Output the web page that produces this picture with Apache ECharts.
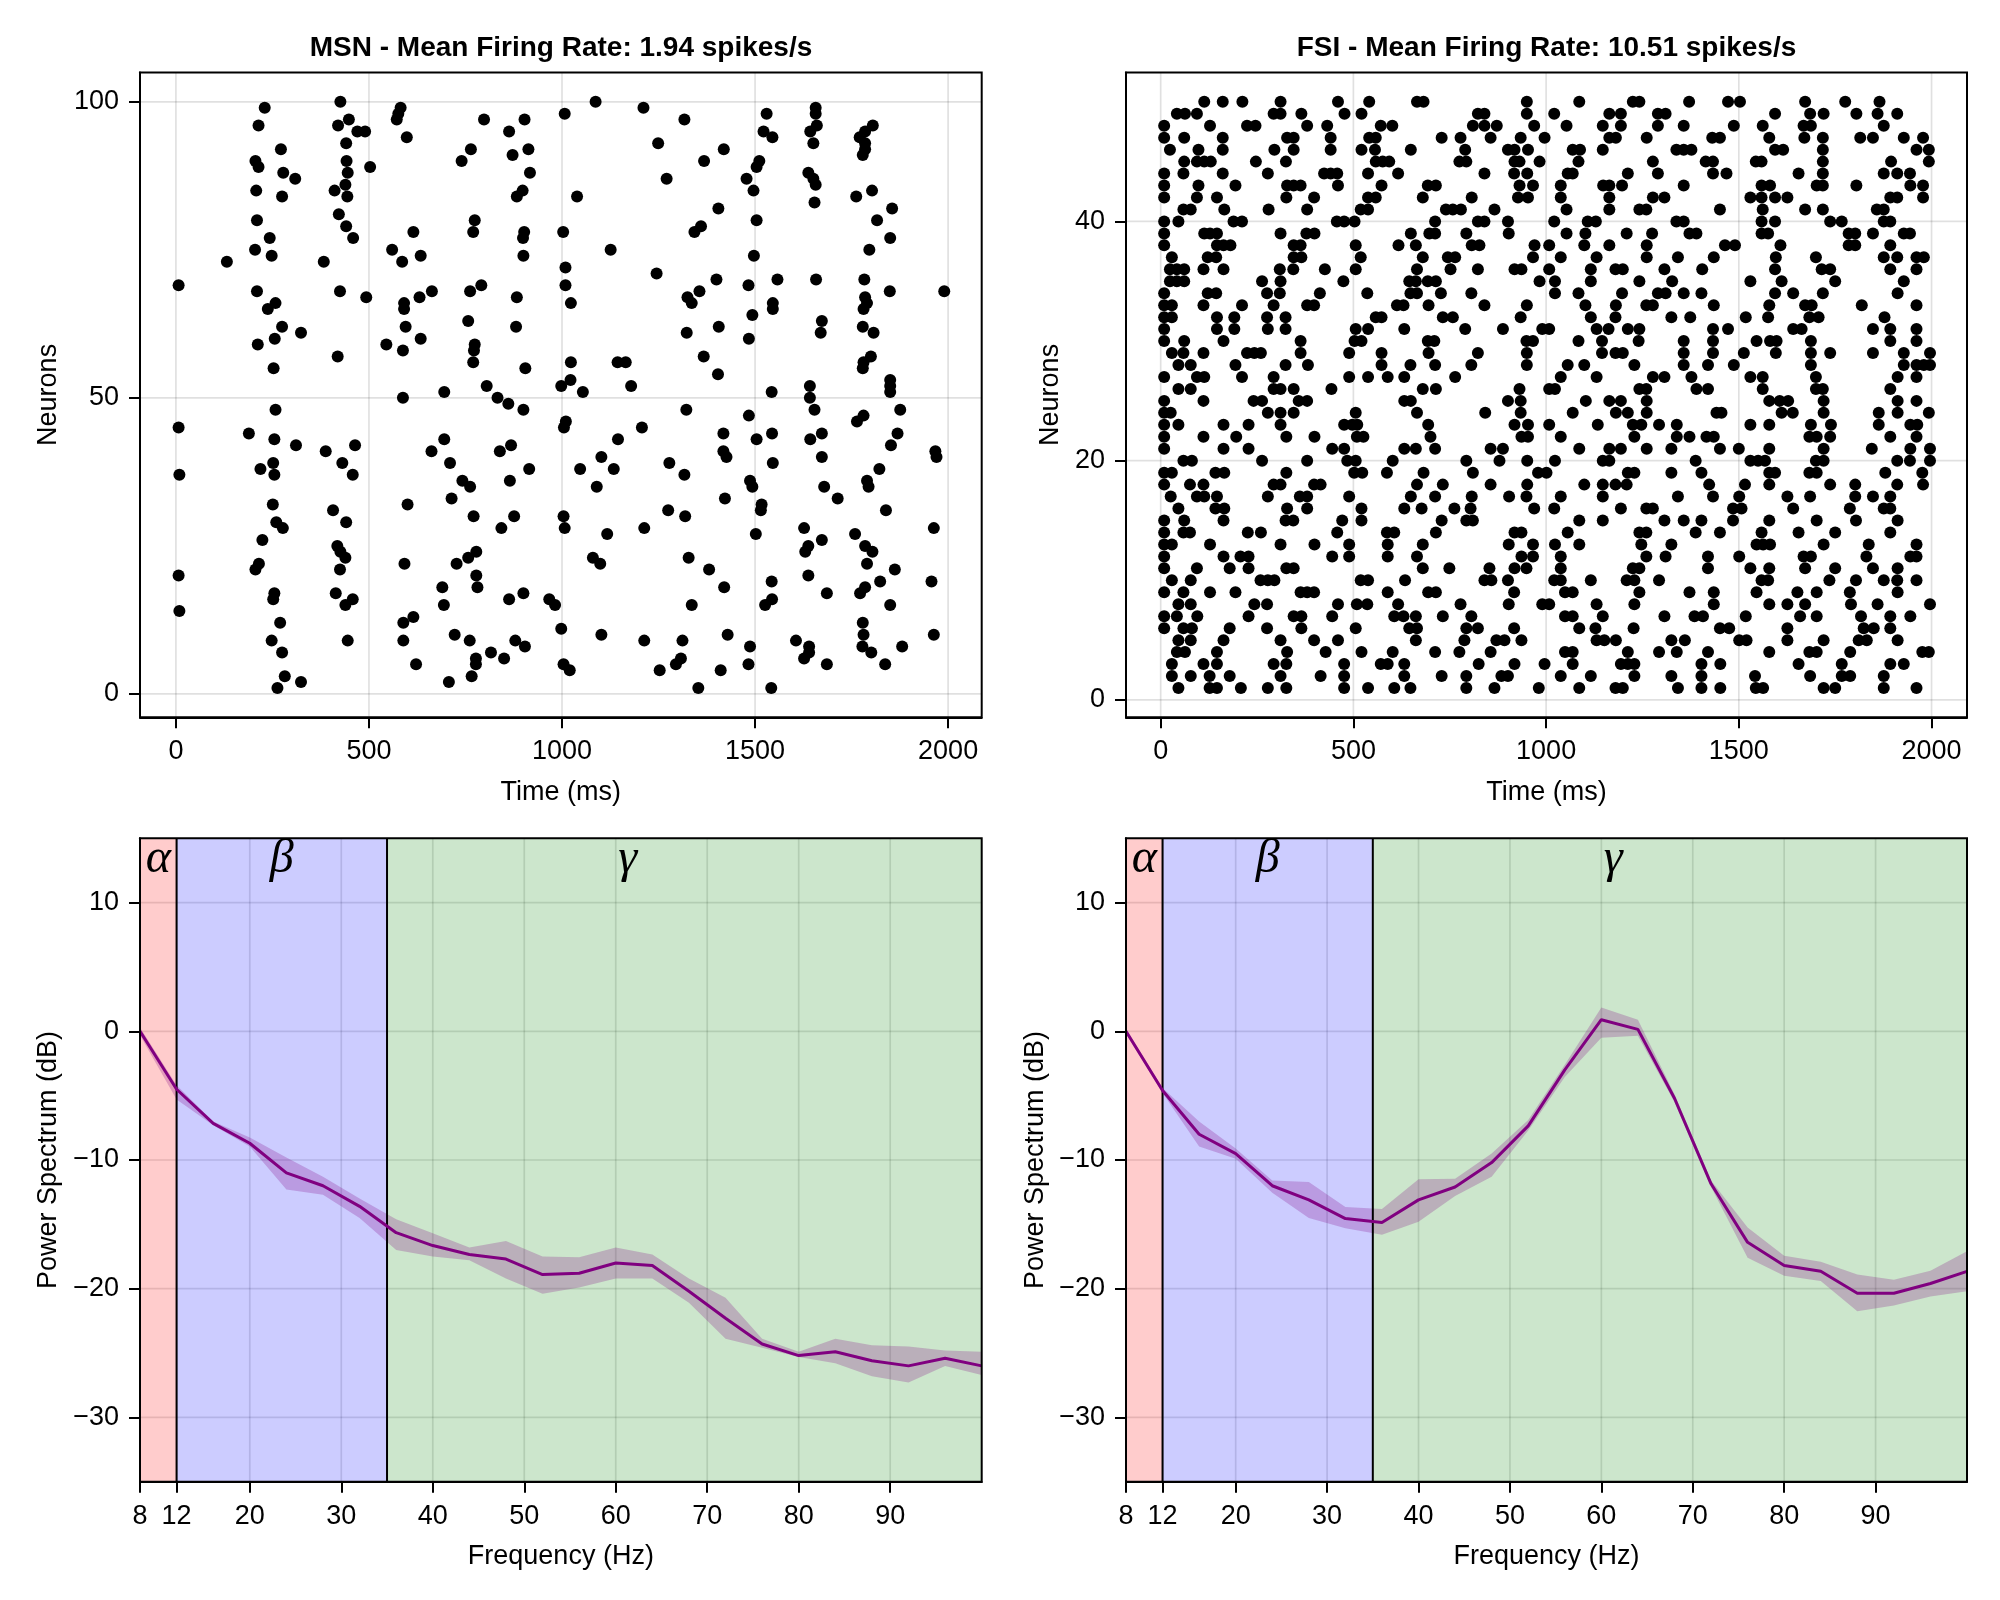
<!DOCTYPE html>
<html>
<head>
<meta charset="utf-8">
<script src="https://cdn.jsdelivr.net/npm/echarts@6/dist/echarts.min.js"></script>
<style>html,body{margin:0;padding:0;background:#fff}#chart{width:2000px;height:1600px}</style>
</head>
<body>
<div id="chart"></div>
<script>
// ---------------- DATA ----------------
const msnTitle = 'MSN - Mean Firing Rate: 1.94 spikes/s';
const fsiTitle = 'FSI - Mean Firing Rate: 10.51 spikes/s';

// MSN spikes: [time (ms), neuron]
const msnSpikes = [
[230,99],[426,100],[582,99],[576,98],[572,97],[214,96],[420,96],[448,97],[470,95],[490,95],[798,97],[863,95],[903,97],[598,94],[272,92],[441,93],[764,92],[872,91],[913,92],[206,90],[214,89],[740,90],[442,90],[445,88],[503,89],[278,88],[309,87],[917,88],[208,85],[411,85],[439,86],[444,84],[275,84],[898,85],[883,84],[210,80],[422,81],[441,79],[459,77],[243,77],[774,80],[770,78],[615,78],[902,78],[899,77],[205,75],[248,74],[132,73],[383,73],[560,75],[586,73],[634,74],[900,74],[7,69],[210,68],[425,68],[493,67],[258,66],[238,65],[591,66],[591,65],[631,67],[663,68],[762,68],[791,69],[883,67],[757,63],[275,62],[324,61],[256,60],[212,59],[595,62],[545,59],[588,58],[634,60],[774,59],[772,58],[770,56],[881,62],[419,57],[253,55],[905,55],[695,51],[588,50],[805,52],[833,50],[861,49],[900,48],[258,48],[7,45],[189,44],[255,43],[311,42],[388,41],[464,42],[431,39],[458,37],[252,39],[255,37],[219,38],[695,43],[662,41],[710,39],[742,36],[762,35],[839,41],[868,42],[915,38],[865,36],[9,37],[714,33],[771,30],[876,30],[843,28],[600,32],[251,32],[407,31],[441,29],[260,29],[277,28],[224,26],[418,25],[426,24],[439,23],[425,21],[215,22],[206,21],[7,20],[592,22],[727,22],[757,23],[778,24],[778,20],[781,18],[690,18],[694,15],[255,17],[252,16],[414,17],[458,16],[439,15],[9,14],[863,16],[900,17],[967,16],[982,15],[270,12],[248,9],[275,7],[445,9],[589,12],[615,13],[589,9],[622,5],[722,10],[761,9],[816,7],[850,6],[879,9],[904,8],[777,6],[777,5],[766,3],[707,2],[282,3],[263,1],[324,2],
[1007,98],[1087,100],[1211,99],[1317,97],[1249,93],[1368,90],[1419,92],[1271,87],[1039,84],[1530,98],[1522,95],[1545,94],[1511,90],[1504,89],[1478,87],[1496,85],[1657,99],[1657,98],[1660,96],[1643,95],[1651,93],[1805,96],[1785,95],[1771,94],[1785,93],[1785,92],[1779,91],[1638,88],[1651,87],[1657,86],[1654,83],[1762,84],[1803,85],[1855,82],[1405,82],[1504,80],[1816,80],[1343,78],[1360,79],[1850,77],[1003,78],[1126,75],[1796,75],[1497,74],[1009,72],[1009,69],[1023,66],[1245,71],[1400,70],[1356,68],[1325,67],[1336,66],[1483,69],[1558,70],[1658,70],[1783,70],[1849,68],[1990,68],[1785,67],[1790,66],[1781,65],[1546,66],[1546,65],[1493,64],[1673,63],[1670,61],[1406,62],[1323,61],[1484,60],[1779,62],[1807,61],[1367,57],[1404,54],[1023,56],[1022,53],[998,52],[1054,51],[1144,56],[1165,56],[1179,52],[1781,56],[1779,55],[1800,57],[1850,53],[1850,52],[1850,51],[1543,51],[1642,52],[1642,50],[1654,48],[1322,48],[1484,47],[1010,46],[1005,45],[1207,45],[1145,43],[1102,40],[1047,38],[1134,38],[1090,35],[1418,44],[1418,41],[1426,40],[1504,43],[1544,44],[1546,39],[1643,43],[1673,44],[1673,40],[1764,46],[1781,47],[1876,48],[1869,44],[1852,42],[1967,41],[1970,40],[1822,38],[1790,36],[1794,35],[1278,39],[1317,37],[1487,36],[1493,35],[1679,35],[1714,33],[1422,33],[1517,32],[1515,31],[1839,31],[1004,30],[1007,28],[1117,27],[1213,28],[1275,31],[1319,30],[1502,27],[1627,28],[1673,26],[1638,25],[1630,24],[1759,27],[1785,25],[1804,24],[1790,22],[1963,28],[1080,23],[1099,22],[1328,23],[1381,21],[1420,18],[1543,19],[1544,16],[1526,15],[1638,20],[1686,17],[1785,18],[1772,17],[1824,19],[1862,21],[1850,15],[1957,19],[1336,15],[998,11],[1102,10],[1213,9],[1312,9],[1429,10],[1487,8],[1483,5],[1606,9],[1640,8],[1640,7],[1627,6],[1686,5],[1779,12],[1781,10],[1778,8],[1801,7],[1881,8],[1837,5],[1963,10],[1004,5],[1020,4],[1253,4],[1308,6],[1295,5],[1411,4],[1353,1],[1542,1]
];

// FSI spike times (ms) per neuron, neuron 1 first
const fsiSpikeTimes = [
/*1*/ [46,127,146,208,278,326,476,538,606,648,793,866,981,1086,1180,1199,1342,1403,1452,1544,1563,1720,1750,1876,1961],
/*2*/ [29,78,127,179,311,415,476,632,729,793,884,901,1038,1116,1229,1325,1403,1542,1685,1767,1789,1876],
/*3*/ [29,111,146,293,326,476,571,589,632,825,918,996,1069,1194,1212,1229,1403,1452,1655,1767,1893,1928],
/*4*/ [42,63,146,328,428,521,602,712,775,856,1049,1069,1212,1293,1339,1420,1579,1683,1702,1789,1976,1993],
/*5*/ [46,78,163,311,398,460,662,788,871,892,936,1131,1151,1181,1325,1360,1501,1520,1626,1720,1811,1832,1912],
/*6*/ [9,59,81,179,276,365,506,645,665,793,823,917,1086,1128,1227,1451,1475,1626,1824,1850,1893],
/*7*/ [9,42,95,228,345,365,445,606,630,662,732,806,1049,1069,1147,1307,1385,1407,1518,1659,1702,1817,1893,1945],
/*8*/ [46,78,243,276,460,509,536,616,778,903,990,1008,1131,1229,1435,1579,1626,1672,1791,1860,1996],
/*9*/ [9,59,128,194,363,380,398,589,694,714,917,1049,1069,1242,1372,1435,1546,1652,1702,1788,1912],
/*10*/ [29,78,259,278,295,519,538,634,840,858,901,1021,1038,1116,1209,1229,1293,1559,1576,1735,1804,1876,1911,1961],
/*11*/ [9,94,179,228,326,345,680,749,853,918,949,1038,1225,1242,1420,1530,1579,1672,1750,1848,1912],
/*12*/ [9,163,207,228,445,489,589,665,936,966,1038,1260,1310,1420,1501,1668,1687,1831,1945,1961],
/*13*/ [9,29,128,311,399,489,589,680,903,966,1023,1086,1247,1325,1546,1563,1581,1720,1837,1961],
/*14*/ [9,59,76,226,260,458,587,606,714,918,936,1056,1242,1260,1388,1451,1559,1655,1750,1893],
/*15*/ [9,61,163,324,344,471,521,729,793,810,1086,1147,1307,1357,1403,1485,1579,1702,1804,1912],
/*16*/ [46,142,165,328,380,521,632,677,762,804,969,1021,1194,1260,1277,1485,1507,1641,1788,1876,1893],
/*17*/ [26,94,113,146,278,361,380,489,649,712,807,904,949,1038,1147,1342,1433,1501,1626,1685,1802,1848,1893],
/*18*/ [9,76,111,293,311,398,415,665,732,856,951,1099,1147,1180,1209,1423,1516,1579,1737,1802,1911,1978],
/*19*/ [9,29,142,165,326,502,523,587,682,810,979,1001,1212,1229,1325,1403,1579,1594,1683,1702,1880,1976],
/*20*/ [59,81,263,380,484,506,602,793,879,951,1023,1147,1164,1388,1530,1550,1568,1700,1720,1911,1944,1996],
/*21*/ [9,163,228,445,476,632,662,712,856,888,1086,1164,1194,1261,1325,1451,1500,1579,1720,1845,1945,1996],
/*22*/ [9,111,196,326,399,509,526,700,936,953,1038,1229,1339,1372,1416,1435,1683,1702,1737,1893,1961],
/*23*/ [9,46,163,228,311,476,497,510,694,918,953,1008,1134,1225,1247,1293,1339,1530,1579,1687,1739,1863,1945,1963],
/*24*/ [9,26,278,311,345,506,665,842,934,1069,1181,1212,1261,1442,1455,1611,1640,1720,1863,1912,1993],
/*25*/ [9,111,241,263,358,380,632,649,901,934,1103,1164,1194,1261,1579,1606,1628,1720,1912,1961],
/*26*/ [46,78,293,311,345,443,680,714,931,1008,1023,1242,1260,1390,1420,1562,1700,1718,1893],
/*27*/ [9,94,113,211,293,489,538,589,632,764,1038,1131,1277,1307,1377,1530,1562,1700,1912,1961],
/*28*/ [46,78,194,324,382,573,648,712,806,950,1056,1099,1229,1357,1420,1487,1687,1928,1961,1980,1996],
/*29*/ [29,59,111,224,243,260,363,489,573,695,823,950,1145,1180,1199,1357,1433,1513,1596,1687,1737,1848,1928,1996],
/*30*/ [9,61,163,363,503,521,693,710,949,966,1084,1145,1240,1357,1433,1546,1581,1598,1687,1893,1961],
/*31*/ [9,146,191,278,324,506,538,632,790,888,990,1008,1131,1162,1212,1242,1433,1472,1641,1663,1848,1893,1961],
/*32*/ [9,29,146,191,276,324,558,573,732,758,934,1116,1180,1325,1374,1518,1576,1683,1707,1878],
/*33*/ [9,29,111,211,293,380,398,613,630,695,840,950,1102,1181,1260,1277,1435,1579,1672,1689,1819,1961],
/*34*/ [9,122,144,276,309,413,536,648,665,727,806,1023,1084,1197,1290,1310,1357,1403,1594,1641,1718,1912],
/*35*/ [24,42,61,263,311,474,645,662,693,714,983,1023,1116,1242,1327,1530,1611,1750,1928],
/*36*/ [24,42,61,111,163,309,344,426,506,665,752,823,918,936,1008,1116,1180,1199,1307,1405,1594,1715,1737,1893,1961],
/*37*/ [29,122,144,345,365,519,680,745,764,966,1038,1131,1261,1342,1435,1596,1700,1876,1911,1961,1980],
/*38*/ [9,146,163,181,345,363,506,617,662,807,827,970,1008,1099,1164,1261,1464,1490,1608,1785,1802,1893],
/*39*/ [9,113,128,146,311,378,399,649,697,712,793,903,1053,1102,1209,1275,1372,1390,1559,1576,1785,1802,1848,1928,1944],
/*40*/ [9,46,189,211,457,476,503,712,823,840,901,1021,1108,1129,1338,1357,1559,1594,1737,1767,1876,1893],
/*41*/ [59,78,165,280,380,519,538,740,758,779,866,1053,1164,1242,1260,1451,1562,1672,1718,1858,1876],
/*42*/ [9,94,146,326,398,538,558,680,807,927,953,1038,1164,1277,1307,1530,1559,1594,1626,1893,1911,1978],
/*43*/ [9,98,194,328,345,363,460,573,693,714,931,966,1038,1148,1164,1197,1357,1559,1581,1702,1718,1805,1945,1978],
/*44*/ [9,59,161,278,424,441,458,538,616,840,917,951,1056,1069,1212,1290,1433,1468,1655,1718,1876,1911,1944],
/*45*/ [61,94,113,130,247,325,558,576,593,775,793,918,931,983,1084,1277,1414,1433,1544,1559,1718,1895,1993],
/*46*/ [24,98,161,295,345,441,521,556,649,790,901,918,953,1069,1088,1147,1338,1357,1377,1594,1615,1718,1961,1993],
/*47*/ [9,61,161,328,345,441,541,558,729,778,856,934,996,1164,1181,1261,1431,1451,1579,1670,1718,1815,1848,1928,1978],
/*48*/ [9,128,224,246,380,432,571,601,810,840,872,969,1053,1147,1194,1290,1357,1487,1562,1668,1687,1876],
/*49*/ [42,63,94,293,311,365,477,521,823,840,950,1021,1164,1194,1290,1310,1594,1685,1720,1805,1860,1911],
/*50*/ [113,161,212,311,460,541,665,682,950,1086,1225,1242,1371,1472,1503,1672,1776,1865]
];

const rasterTimeTicks = [0, 500, 1000, 1500, 2000];
const msnNeuronTicks = [0, 50, 100];
const fsiNeuronTicks = [0, 20, 40];

// Power spectra
const freqs    = [8,12,16,20,24,28,32,36,40,44,48,52,56,60,64,68,72,76,80,84,88,92,96,100];
const msnPower = [0.0,-4.5,-7.15,-8.7,-11.0,-12.0,-13.6,-15.65,-16.65,-17.35,-17.7,-18.9,-18.8,-18.0,-18.2,-20.2,-22.3,-24.3,-25.2,-24.9,-25.6,-26.0,-25.4,-26.0];
const msnUpper = [0.3,-4.2,-7.0,-8.25,-9.8,-11.3,-13.0,-14.6,-15.7,-16.8,-16.3,-17.5,-17.55,-16.8,-17.35,-19.2,-20.7,-23.9,-24.9,-23.9,-24.4,-24.5,-24.8,-24.9];
const msnLower = [-0.3,-5.3,-7.3,-8.95,-12.3,-12.7,-14.5,-17.0,-17.5,-17.8,-19.2,-20.4,-19.9,-19.2,-19.2,-21.1,-23.9,-24.6,-25.3,-25.8,-26.8,-27.3,-26.0,-26.7];
const fsiPower = [0.0,-4.6,-8.0,-9.5,-12.0,-13.1,-14.55,-14.85,-13.1,-12.1,-10.2,-7.35,-3.0,0.9,0.15,-5.2,-11.85,-16.4,-18.2,-18.65,-20.35,-20.35,-19.6,-18.65];
const fsiUpper = [0.2,-4.4,-7.0,-9.1,-11.6,-11.7,-13.65,-13.8,-11.5,-11.45,-9.5,-6.9,-2.6,1.85,0.9,-4.9,-11.6,-15.25,-17.45,-17.9,-18.9,-19.3,-18.6,-17.1];
const fsiLower = [-0.2,-4.8,-8.95,-9.9,-12.55,-14.5,-15.3,-15.8,-14.8,-12.8,-11.3,-7.7,-3.55,-0.5,-0.35,-5.5,-12.1,-17.6,-19.0,-19.4,-21.75,-21.3,-20.6,-20.2];

const freqTicks = [8, 12, 20, 30, 40, 50, 60, 70, 80, 90];
const powerTicks = [-30, -20, -10, 0, 10];

const bandEdges = [8, 12, 35, 100];
const bandNames = ['\u03B1', '\u03B2', '\u03B3'];
const bandLabelFreqs = [10, 23.5, 61.3];

// ---------------- STYLE / LAYOUT ----------------
const FONT = '"Liberation Sans", Arial, Helvetica, sans-serif';
const FS = 27;
const bandFill = ['rgba(255,0,0,0.2)', 'rgba(0,0,255,0.2)', 'rgba(0,128,0,0.2)'];
const GRIDCOL = 'rgba(0,0,0,0.12)';

const ranges = [
  { x: [-93, 2087], y: [-3.95, 104.95] },
  { x: [-90, 2092], y: [-1.45, 52.45] },
  { x: [8, 100], y: [-35, 15] },
  { x: [8, 100], y: [-35, 15] }
];

const grids = [
  { left: 140, top: 72.5, width: 841.7, height: 644.8 },
  { left: 1126, top: 72.5, width: 841, height: 644.8 },
  { left: 140, top: 838.3, width: 841.7, height: 643.4 },
  { left: 1126, top: 838.3, width: 841, height: 643.4 }
].map(g => Object.assign({ show: false, containLabel: false }, g));

const fmt = v => String(v).replace('-', '\u2212');

function xAxis(i, ticks, name, nameGap) {
  return {
    type: 'value', gridIndex: i, min: ranges[i].x[0], max: ranges[i].x[1],
    name, nameLocation: 'middle', nameGap,
    nameTextStyle: { fontSize: FS, fontFamily: FONT, color: '#000' },
    axisLine: { show: true, onZero: false, lineStyle: { color: '#000', width: 2 } },
    splitLine: { show: false },
    axisTick: { show: true, inside: false, length: 11, customValues: ticks, lineStyle: { color: '#000', width: 2 } },
    axisLabel: { show: true, customValues: ticks, fontSize: FS, fontFamily: FONT, color: '#000', margin: 21, formatter: fmt }
  };
}
function yAxis(i, ticks, name, nameGap) {
  return {
    type: 'value', gridIndex: i, min: ranges[i].y[0], max: ranges[i].y[1],
    name, nameLocation: 'middle', nameGap,
    nameTextStyle: { fontSize: FS, fontFamily: FONT, color: '#000' },
    axisLine: { show: true, onZero: false, lineStyle: { color: '#000', width: 2 } },
    splitLine: { show: false },
    axisTick: { show: true, inside: false, length: 11, customValues: ticks, lineStyle: { color: '#000', width: 2 } },
    axisLabel: { show: true, customValues: ticks, fontSize: FS, fontFamily: FONT, color: '#000', margin: 21, formatter: fmt }
  };
}

function gridLines(i, xs, ys) {
  const r = ranges[i];
  return {
    type: 'custom', xAxisIndex: i, yAxisIndex: i, z: 1, silent: true, animation: false,
    data: xs.map(v => [0, v]).concat(ys.map(v => [1, v])),
    encode: { x: [], y: [] },
    renderItem: (params, api) => {
      const kind = api.value(0), v = api.value(1);
      let p1, p2;
      if (kind === 0) { p1 = api.coord([v, r.y[0]]); p2 = api.coord([v, r.y[1]]); }
      else { p1 = api.coord([r.x[0], v]); p2 = api.coord([r.x[1], v]); }
      return { type: 'line', shape: { x1: p1[0], y1: p1[1], x2: p2[0], y2: p2[1] },
               style: { stroke: GRIDCOL, lineWidth: 1.7 } };
    }
  };
}

function frame(i) {
  return {
    type: 'custom', xAxisIndex: i, yAxisIndex: i, z: 20, silent: true, animation: false,
    data: [[ranges[i].x[0], ranges[i].y[0]]],
    renderItem: (params) => {
      const cs = params.coordSys;
      return { type: 'rect', shape: { x: cs.x, y: cs.y, width: cs.width, height: cs.height },
               style: { fill: 'none', stroke: '#000', lineWidth: 2 } };
    }
  };
}

function raster(i, pts) {
  return {
    type: 'scatter', xAxisIndex: i, yAxisIndex: i, z: 3, silent: true, animation: false,
    symbol: 'circle', symbolSize: 12, itemStyle: { color: '#000', opacity: 1 }, data: pts
  };
}

function spectrum(i, power, upper, lower) {
  const r = ranges[i];
  const freqGrid = freqTicks.filter(f => f > r.x[0]);
  const boundaries = bandEdges.slice(1, -1);
  return [
    gridLines(i, freqGrid, powerTicks),
    { // frequency bands
      type: 'custom', xAxisIndex: i, yAxisIndex: i, z: 2, silent: true, animation: false,
      data: bandEdges.slice(0, -1).map((e, k) => [e, bandEdges[k + 1], k]),
      encode: { x: [], y: [] },
      renderItem: (params, api) => {
        const a = api.coord([api.value(0), r.y[1]]);
        const b = api.coord([api.value(1), r.y[0]]);
        return { type: 'rect', shape: { x: a[0], y: a[1], width: b[0] - a[0], height: b[1] - a[1] },
                 style: { fill: bandFill[api.value(2)] } };
      }
    },
    { // confidence band
      type: 'custom', xAxisIndex: i, yAxisIndex: i, z: 3, silent: true, animation: false,
      data: [[freqs[0], power[0]]],
      renderItem: (params, api) => {
        const top = freqs.map((f, k) => api.coord([f, upper[k]]));
        const bot = freqs.map((f, k) => api.coord([f, lower[k]])).reverse();
        return { type: 'polygon', shape: { points: top.concat(bot) },
                 style: { fill: 'rgba(128,0,128,0.24)' } };
      }
    },
    { // band boundaries
      type: 'custom', xAxisIndex: i, yAxisIndex: i, z: 4, silent: true, animation: false,
      data: boundaries.map(v => [v, 0]),
      encode: { x: [], y: [] },
      renderItem: (params, api) => {
        const v = api.value(0);
        const p1 = api.coord([v, r.y[0]]), p2 = api.coord([v, r.y[1]]);
        return { type: 'line', shape: { x1: p1[0], y1: p1[1], x2: p2[0], y2: p2[1] },
                 style: { stroke: '#000', lineWidth: 2 } };
      }
    },
    {
      type: 'line', xAxisIndex: i, yAxisIndex: i, z: 5, silent: true, animation: false,
      showSymbol: false, symbol: 'none',
      lineStyle: { color: '#800080', width: 3 },
      data: freqs.map((f, k) => [f, power[k]])
    },
    { // band letters
      type: 'custom', xAxisIndex: i, yAxisIndex: i, z: 6, silent: true, animation: false,
      data: bandLabelFreqs.map((f, k) => [f, 13.4, k]),
      renderItem: (params, api) => {
        const p = api.coord([api.value(0), api.value(1)]);
        return { type: 'text', x: p[0], y: p[1],
                 style: { text: bandNames[api.value(2)], fontSize: 48, fontStyle: 'italic',
                          fontFamily: '"Liberation Serif", "DejaVu Serif", serif', fill: '#000',
                          align: 'center', verticalAlign: 'middle' } };
      }
    },
    frame(i)
  ];
}

const fsiPoints = fsiSpikeTimes.flatMap((times, k) => times.map(t => [t, k + 1]));

const option = {
  animation: false,
  backgroundColor: '#fff',
  grid: grids,
  xAxis: [
    xAxis(0, rasterTimeTicks, 'Time (ms)', 62),
    xAxis(1, rasterTimeTicks, 'Time (ms)', 62),
    xAxis(2, freqTicks, 'Frequency (Hz)', 61),
    xAxis(3, freqTicks, 'Frequency (Hz)', 61)
  ],
  yAxis: [
    yAxis(0, msnNeuronTicks, 'Neurons', 78),
    yAxis(1, fsiNeuronTicks, 'Neurons', 62),
    yAxis(2, powerTicks, 'Power Spectrum (dB)', 78),
    yAxis(3, powerTicks, 'Power Spectrum (dB)', 77)
  ],
  graphic: [
    { type: 'text', x: 561, y: 48.5, silent: true,
      style: { text: msnTitle, fontSize: 28, fontWeight: 'bold', fontFamily: FONT, fill: '#000', align: 'center', verticalAlign: 'middle' } },
    { type: 'text', x: 1546.5, y: 48.5, silent: true,
      style: { text: fsiTitle, fontSize: 28, fontWeight: 'bold', fontFamily: FONT, fill: '#000', align: 'center', verticalAlign: 'middle' } }
  ],
  series: [
    gridLines(0, rasterTimeTicks, msnNeuronTicks),
    raster(0, msnSpikes),
    frame(0),
    gridLines(1, rasterTimeTicks, fsiNeuronTicks),
    raster(1, fsiPoints),
    frame(1),
    ...spectrum(2, msnPower, msnUpper, msnLower),
    ...spectrum(3, fsiPower, fsiUpper, fsiLower)
  ]
};

const chart = echarts.init(document.getElementById('chart'), null, { renderer: 'canvas' });
chart.setOption(option);
</script>
</body>
</html>
